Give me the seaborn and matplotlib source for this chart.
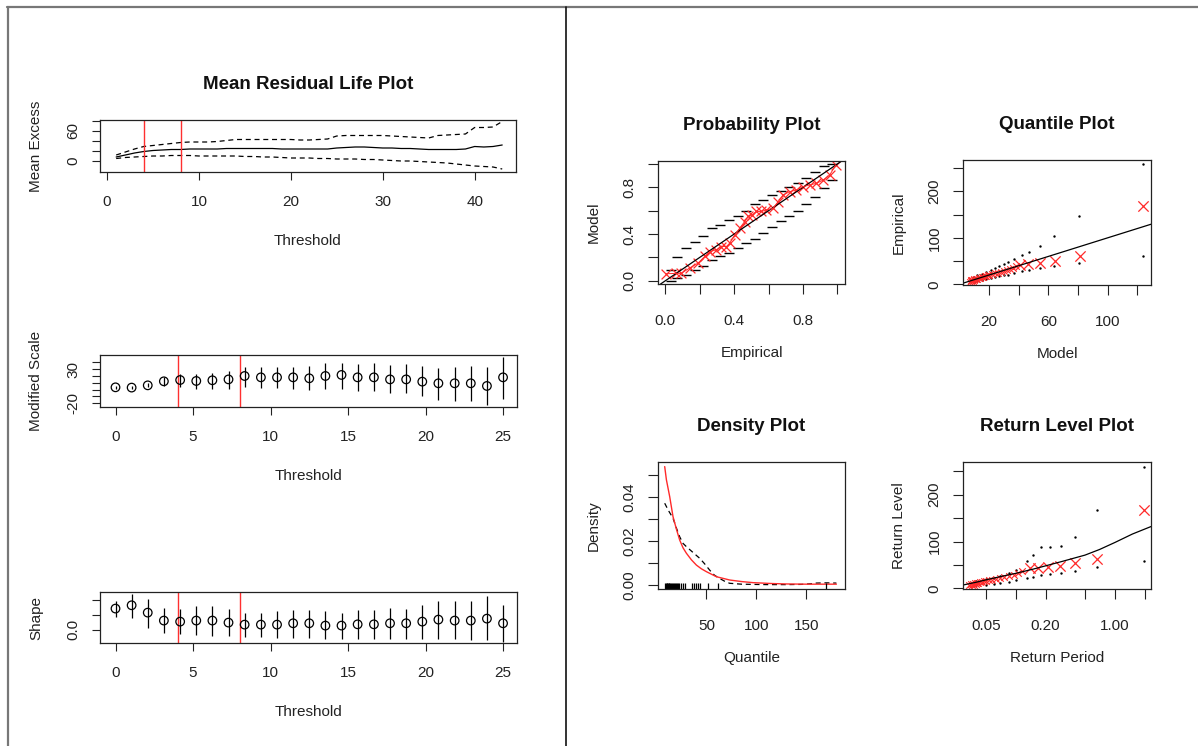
import numpy as np
import pandas as pd
import matplotlib
matplotlib.use("Agg")
import matplotlib.pyplot as plt
from matplotlib.lines import Line2D
import seaborn as sns

sns.set_theme(style="white")
plt.rcParams['font.family'] = ['Liberation Sans', 'DejaVu Sans']

# ---------------- data ----------------
# Mean residual life
mrl_thr = list(range(1, 44))
mrl_mean = [8, 12, 16, 19, 21, 22, 23, 23, 24, 24, 24, 24, 25, 25, 25, 25, 25, 25, 24, 24, 24, 24, 24, 24,
            26, 27, 28, 28, 27, 26, 26, 25, 25, 24, 23, 23, 23, 23, 24, 29, 28, 29, 32]
mrl_upper = [12, 18, 24, 29, 31, 33, 35, 37, 38, 38, 38, 39, 41, 43, 43, 43, 43, 43, 43, 43, 42, 42, 43, 44,
             50, 51, 51, 51, 51, 51, 50, 49, 48, 47, 46, 51, 52, 53, 54, 67, 67, 68, 79]
mrl_lower = [5, 7, 8, 9, 10, 10, 11, 11, 11, 10, 10, 10, 10, 10, 9, 9, 8, 8, 7, 6, 6, 6, 5, 5,
             4, 4, 4, 3, 3, 2, 1, 0, 0, -1, -2, -3, -4, -6, -8, -10, -11, -12, -16]
thr_range = [4, 8]

# Threshold-range fits
fit_thr = [0, 1.04, 2.08, 3.12, 4.17, 5.21, 6.25, 7.29, 8.33, 9.38, 10.42, 11.46, 12.5,
           13.54, 14.58, 15.62, 16.67, 17.71, 18.75, 19.79, 20.83, 21.88, 22.92, 23.96, 25.0]
scale_est = [3.4, 3.0, 6.3, 12.2, 14.1, 12.7, 13.7, 15.0, 20.0, 18.0, 18.0, 18.0, 16.6, 20.0, 21.5,
             18.0, 18.0, 15.0, 15.0, 11.7, 9.3, 9.3, 9.3, 5.4, 18.0]
scale_lo = [1.5, 1.2, 3.4, 5.4, 4.4, 1.5, 1.0, 1.5, 4.4, 2.9, 2.9, 1.0, -0.5, 1.5, 1.5, -2.0, -2.0,
            -5.4, -5.4, -8.8, -14.6, -16.6, -16.6, -22.5, -13.7]
scale_hi = [5.3, 4.8, 9.3, 19.0, 22.9, 22.9, 23.9, 27.8, 33.7, 33.2, 33.2, 33.2, 35.1, 39.0, 39.0,
            37.6, 39.0, 36.1, 37.6, 34.6, 31.7, 33.2, 34.6, 33.2, 47.8]
shape_est = [0.28, 0.324, 0.226, 0.12, 0.106, 0.12, 0.12, 0.093, 0.066, 0.066, 0.066, 0.084, 0.084,
             0.053, 0.053, 0.07, 0.07, 0.084, 0.084, 0.106, 0.133, 0.12, 0.12, 0.146, 0.084]
shape_lo = [0.168, 0.155, 0.022, -0.045, -0.054, -0.067, -0.08, -0.08, -0.098, -0.098, -0.11, -0.11,
            -0.11, -0.125, -0.125, -0.125, -0.125, -0.125, -0.125, -0.125, -0.125, -0.125, -0.142,
            -0.142, -0.165]
shape_hi = [0.377, 0.48, 0.413, 0.293, 0.28, 0.31, 0.31, 0.28, 0.226, 0.226, 0.244, 0.257, 0.257,
            0.244, 0.226, 0.257, 0.257, 0.293, 0.28, 0.324, 0.377, 0.377, 0.377, 0.444, 0.324]

# Probability plot
pp_emp = [0.006, 0.062, 0.092, 0.141, 0.19, 0.229, 0.258, 0.297, 0.326, 0.355, 0.374, 0.403, 0.432,
          0.461, 0.481, 0.506, 0.529, 0.558, 0.587, 0.626, 0.655, 0.684, 0.723, 0.762, 0.80, 0.839,
          0.878, 0.917, 0.955, 0.99]
pp_mod = [0.06, 0.063, 0.063, 0.109, 0.151, 0.208, 0.25, 0.265, 0.293, 0.293, 0.322, 0.393, 0.45,
          0.507, 0.55, 0.564, 0.593, 0.593, 0.606, 0.62, 0.677, 0.734, 0.763, 0.777, 0.805, 0.82,
          0.834, 0.862, 0.905, 0.99]
pp_band_x = [0.03, 0.07, 0.12, 0.17, 0.22, 0.27, 0.32, 0.37, 0.42, 0.47, 0.52, 0.57, 0.62, 0.67,
             0.72, 0.77, 0.82, 0.87, 0.92, 0.97]
pp_upper = [0.09, 0.2, 0.28, 0.33, 0.38, 0.45, 0.48, 0.52, 0.55, 0.6, 0.66, 0.69, 0.73, 0.77, 0.8,
            0.84, 0.88, 0.93, 0.98, 1.0]
pp_lower = [0.0, 0.02, 0.05, 0.09, 0.13, 0.18, 0.21, 0.24, 0.28, 0.32, 0.36, 0.41, 0.46, 0.51, 0.55,
            0.6, 0.66, 0.72, 0.79, 0.86]

# Quantile plot
qq_model = [7, 7.5, 8, 8.5, 9, 9.5, 10, 11, 12, 13, 14, 15, 16, 17, 18, 19, 20, 22, 24, 26, 28, 30,
            32, 34, 36, 38, 40.7, 46.4, 54.3, 64.4, 81.3, 124]
qq_emp = [6, 9, 7, 10, 8, 11, 9, 12, 11, 14, 13, 16, 15, 18, 17, 20, 19, 22, 24, 25, 27, 29, 31, 33,
          36, 39, 42, 44, 45.6, 51, 62, 169]
qq_ci_x = [10, 12, 15, 18, 21, 24, 27, 30, 33, 37, 42, 47.1, 54.3, 64, 80.6, 124]
qq_ci_up = [16, 19, 23, 27, 31, 35, 39, 43, 48, 55, 62.8, 70, 82, 103.5, 146, 260]
qq_ci_lo = [6, 7, 9, 11, 13, 15, 17, 19, 21, 24, 28, 31, 35, 39, 46, 60]

# Density plot
den_x = [8.3, 10, 13.3, 16.6, 20, 23.3, 26.6, 30, 35, 40, 45, 50, 60, 73.3, 85, 96.6, 115, 130, 150, 180]
den_model = [0.054, 0.048, 0.0403, 0.0312, 0.0255, 0.0205, 0.017, 0.0145, 0.0115, 0.0091, 0.0074,
             0.0061, 0.0038, 0.0023, 0.0016, 0.0011, 0.0007, 0.0005, 0.0004, 0.0004]
kde_x = [8.3, 12, 16.6, 20, 23.3, 26.6, 30, 35, 40, 43.3, 48, 53.3, 58, 63.3, 68, 73.3, 85, 96.6,
         110, 130, 145, 155, 160, 170, 180]
kde_y = [0.0373, 0.034, 0.0305, 0.026, 0.022, 0.019, 0.0175, 0.0155, 0.0135, 0.0122, 0.0098, 0.0068,
         0.0045, 0.003, 0.0018, 0.0008, 0.0004, 0.0003, 0.0002, 0.0002, 0.0003, 0.0006, 0.0009, 0.001,
         0.0009]
rug_vals = [9, 10, 10.5, 11, 12, 12.5, 13, 14, 15, 16, 17, 18, 19, 20, 21, 22, 23, 25, 27, 29, 36,
            38, 40, 42, 44, 52, 62, 170]

# Return level plot
rl_period = [0.034, 0.035, 0.036, 0.037, 0.038, 0.039, 0.04, 0.041, 0.042, 0.044, 0.046, 0.048, 0.05,
             0.054, 0.058, 0.063, 0.07, 0.077, 0.085, 0.095, 0.105, 0.115, 0.138, 0.168, 0.212,
             0.278, 0.394, 0.653, 1.96]
rl_level = [6, 9, 7, 10, 8, 11, 9, 12, 11, 14, 13, 16, 15, 18, 17, 20, 22, 24, 27, 29, 33, 36, 42.8,
            42.8, 46, 48.5, 53.6, 63, 168]
rl_curve_p = [0.0294, 0.04, 0.05, 0.07, 0.1, 0.15, 0.2, 0.3, 0.5, 0.7, 1.0, 1.5, 2.31]
rl_curve_l = [7, 13, 18, 25, 32, 41, 48, 58, 71, 83, 98, 116, 132]
rl_ci_p = [0.04, 0.05, 0.06, 0.07, 0.085, 0.1, 0.13, 0.15, 0.178, 0.22, 0.283, 0.394, 0.653, 1.96]
rl_ci_up = [15, 19, 23, 27, 33, 40, 58, 71, 89, 89, 91, 110, 168, 260]
rl_ci_lo = [6, 8, 10, 12, 14, 17, 21, 24, 28, 30, 32, 37, 46, 58]

# ---------------- figure ----------------
W, H = 1198, 746
fig = plt.figure(figsize=(W / 100, H / 100), dpi=100)
fig.patch.set_facecolor('white')

FS = 11
TFS = 13.5
RED = '#ff2a2a'


def add_ax(l, t, r, b):
    ax = fig.add_axes([l / W, 1 - b / H, (r - l) / W, (b - t) / H])
    ax.set_facecolor('white')
    for s in ax.spines.values():
        s.set_visible(True)
        s.set_color('#222222')
        s.set_linewidth(0.9)
    return ax, (r - l), (b - t)


def style(ax, w, h, xticks, xlabels, yticks, ylabels, xlabel, ylabel, title=None,
          xpad=10.5, ypad=8, tlen=6):
    ax.set_xticks(xticks)
    ax.set_xticklabels(xlabels)
    ax.set_yticks(yticks)
    ax.set_yticklabels(ylabels)
    ax.tick_params(axis='both', direction='out', length=tlen, width=0.8, color='#222222',
                   labelsize=FS, labelcolor='#222222', bottom=True, left=True)
    ax.tick_params(axis='x', pad=xpad)
    ax.tick_params(axis='y', pad=ypad)
    for lab in ax.get_yticklabels():
        lab.set_rotation(90)
        lab.set_va('center')
        lab.set_ha('right')
    ax.set_xlabel(xlabel, fontsize=FS, color='#222222')
    ax.set_ylabel(ylabel, fontsize=FS, color='#222222')
    ax.xaxis.label.set_va('center')
    ax.yaxis.label.set_va('center')
    ax.xaxis.set_label_coords(0.5, -69 / h)
    ax.yaxis.set_label_coords(-64 / w, 0.5)
    if title:
        ax.set_title(title, fontsize=TFS, fontweight='bold', pad=22.5, color='#111111')


# ---- Mean residual life plot ----
ax, w, h = add_ax(100, 120, 516, 172)
mrl_df = pd.DataFrame({'thr': mrl_thr, 'mean': mrl_mean, 'up': mrl_upper, 'lo': mrl_lower})
sns.lineplot(data=mrl_df, x='thr', y='mean', ax=ax, color='black', linewidth=0.9)
sns.lineplot(data=mrl_df, x='thr', y='up', ax=ax, color='black', linewidth=0.9, linestyle=(0, (4, 3)))
sns.lineplot(data=mrl_df, x='thr', y='lo', ax=ax, color='black', linewidth=0.9, linestyle=(0, (4, 3)))
for v in thr_range:
    ax.axvline(v, color='#ff3030', linewidth=1.0)
ax.set_xlim(-0.76, 44.5)
ax.set_ylim(-22, 82)
style(ax, w, h, [0, 10, 20, 30, 40], ['0', '10', '20', '30', '40'],
      [0, 20, 40, 60, 80], ['0', '', '', '60', ''], 'Threshold', 'Mean Excess',
      'Mean Residual Life Plot')


def fit_panel(box, est, lo, hi, ylim, yticks, ylabels, ylabel):
    ax, w, h = add_ax(*box)
    ax.vlines(fit_thr, lo, hi, color='black', linewidth=0.9)
    sns.scatterplot(x=fit_thr, y=est, ax=ax, marker='o', s=38, facecolors='none',
                    edgecolors='black', linewidths=0.9, zorder=3)
    for v in thr_range:
        ax.axvline(v, color='#ff3030', linewidth=1.0)
    ax.set_xlim(-1.0, 25.9)
    ax.set_ylim(*ylim)
    style(ax, w, h, [0, 5, 10, 15, 20, 25], ['0', '5', '10', '15', '20', '25'],
          yticks, ylabels, 'Threshold', ylabel)
    return ax


fit_panel((100, 355, 517, 407), scale_est, scale_lo, scale_hi, (-25.4, 50.7),
          [-20, -10, 0, 10, 20, 30, 40], ['-20', '', '', '', '', '30', ''], 'Modified Scale')
fit_panel((100, 592, 517, 643), shape_est, shape_lo, shape_hi, (-0.179, 0.501),
          [0.0, 0.2, 0.4], ['0.0', '', ''], 'Shape')

RPAD = dict(xpad=14, ypad=8, tlen=7.5)

# ---- Probability plot ----
ax, w, h = add_ax(658, 161, 845, 284)
ax.axline((0, 0), (1, 1), color='black', linewidth=0.9)
sns.scatterplot(x=pp_band_x, y=pp_upper, ax=ax, marker='_', s=50, color='black', linewidth=1.0)
sns.scatterplot(x=pp_band_x, y=pp_lower, ax=ax, marker='_', s=50, color='black', linewidth=1.0)
sns.lineplot(x=pp_emp, y=pp_mod, ax=ax, color=RED, linewidth=0.7)
sns.scatterplot(x=pp_emp, y=pp_mod, ax=ax, marker='x', s=50, color=RED, linewidth=0.9)
ax.set_xlim(-0.043, 1.044)
ax.set_ylim(-0.028, 1.025)
style(ax, w, h, [0, 0.2, 0.4, 0.6, 0.8, 1.0], ['0.0', '', '0.4', '', '0.8', ''],
      [0, 0.2, 0.4, 0.6, 0.8, 1.0], ['0.0', '', '0.4', '', '0.8', ''], 'Empirical', 'Model',
      'Probability Plot', **RPAD)

# ---- Quantile plot ----
ax, w, h = add_ax(963, 160, 1151, 285)
ax.axline((0, 0), (1, 1), color='black', linewidth=0.9)
sns.scatterplot(x=qq_ci_x, y=qq_ci_up, ax=ax, marker='.', s=12, color='black', linewidth=0)
sns.scatterplot(x=qq_ci_x, y=qq_ci_lo, ax=ax, marker='.', s=12, color='black', linewidth=0)
sns.scatterplot(x=qq_model[:26], y=qq_emp[:26], ax=ax, marker='x', s=22, color=RED, linewidth=0.8)
sns.scatterplot(x=qq_model[26:], y=qq_emp[26:], ax=ax, marker='x', s=55, color=RED, linewidth=0.9)
ax.set_xlim(2.4, 129.3)
ax.set_ylim(-1.5, 267.6)
style(ax, w, h, [20, 40, 60, 80, 100, 120], ['20', '', '60', '', '100', ''],
      [0, 50, 100, 150, 200, 250], ['0', '', '100', '', '200', ''], 'Model', 'Empirical',
      'Quantile Plot', **RPAD)

# ---- Density plot ----
ax, w, h = add_ax(658, 462, 845, 589)
sns.lineplot(x=kde_x, y=kde_y, ax=ax, color='black', linewidth=0.9, linestyle=(0, (4, 3)))
sns.lineplot(x=den_x, y=den_model, ax=ax, color=RED, linewidth=1.0)
sns.rugplot(x=rug_vals, ax=ax, height=0.045, color='black', linewidth=0.9)
ax.set_xlim(1.6, 188.6)
ax.set_ylim(-0.0018, 0.0561)
style(ax, w, h, [50, 100, 150], ['50', '100', '150'],
      [0, 0.01, 0.02, 0.03, 0.04, 0.05], ['0.00', '', '0.02', '', '0.04', ''], 'Quantile', 'Density',
      'Density Plot', **RPAD)

# ---- Return level plot ----
ax, w, h = add_ax(963, 462, 1151, 589)
ax.set_xscale('log')
sns.lineplot(x=rl_curve_p, y=rl_curve_l, ax=ax, color='black', linewidth=0.9)
sns.scatterplot(x=rl_ci_p, y=rl_ci_up, ax=ax, marker='.', s=12, color='black', linewidth=0)
sns.scatterplot(x=rl_ci_p, y=rl_ci_lo, ax=ax, marker='.', s=12, color='black', linewidth=0)
sns.scatterplot(x=rl_period[:22], y=rl_level[:22], ax=ax, marker='x', s=22, color=RED, linewidth=0.8)
sns.scatterplot(x=rl_period[22:], y=rl_level[22:], ax=ax, marker='x', s=55, color=RED, linewidth=0.9)
ax.set_xlim(0.0294, 2.31)
ax.set_ylim(-1.5, 270)
style(ax, w, h, [0.05, 0.1, 0.2, 0.5, 1.0, 2.0], ['0.05', '', '0.20', '', '1.00', ''],
      [0, 50, 100, 150, 200, 250], ['0', '', '100', '', '200', ''], 'Return Period', 'Return Level',
      'Return Level Plot', **RPAD)
ax.xaxis.set_minor_locator(matplotlib.ticker.NullLocator())

# ---- frame lines ----
fig.add_artist(Line2D([7 / W, 1], [1 - 6.5 / H, 1 - 6.5 / H], color='#777777', linewidth=1.6))
fig.add_artist(Line2D([7.5 / W, 7.5 / W], [0, 1 - 6.5 / H], color='#777777', linewidth=1.6))
fig.add_artist(Line2D([565.5 / W, 565.5 / W], [0, 1 - 7 / H], color='#111111', linewidth=1.2))

fig.savefig('out.png', dpi=100, facecolor='white')
